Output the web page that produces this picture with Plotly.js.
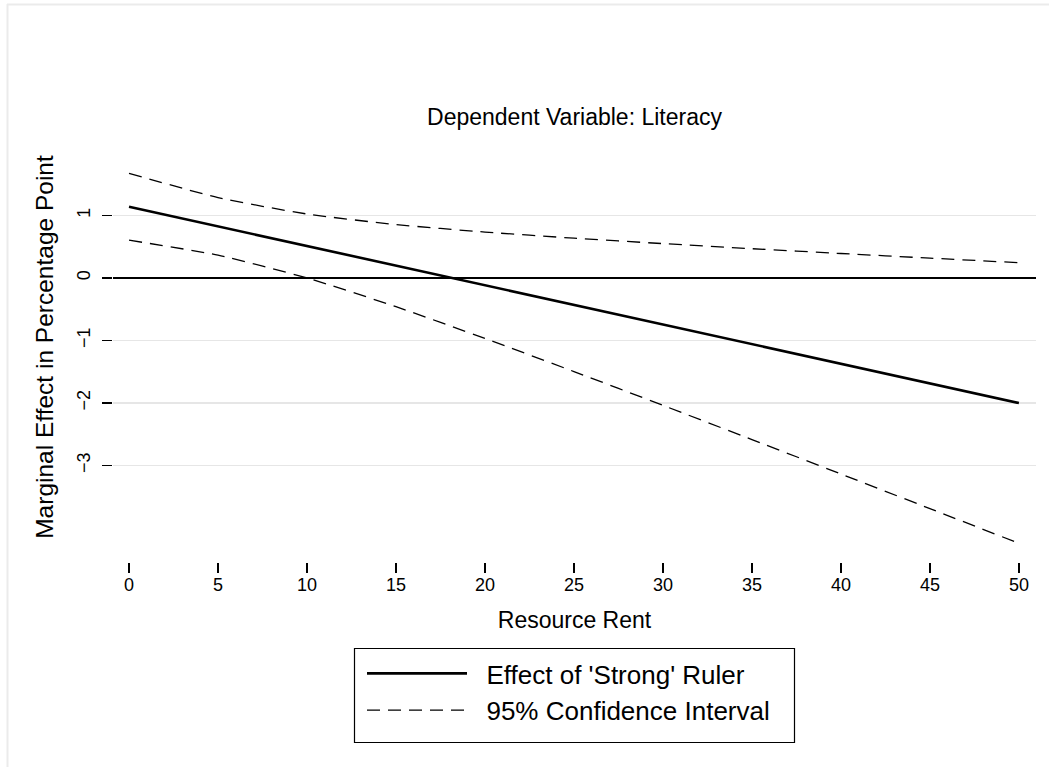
<!DOCTYPE html>
<html>
<head>
<meta charset="utf-8">
<script src="https://cdn.plot.ly/plotly-3.0.1.min.js"></script>
<style>
html,body{margin:0;padding:0;background:#fff;}
#chart{width:1049px;height:767px;}
</style>
</head>
<body>
<div id="chart"></div>
<script>
// Resource rent values (x)
const resourceRent = [0, 5, 10, 15, 20, 25, 30, 35, 40, 45, 50];
// Marginal effect of 'Strong' ruler
const effect = [1.14, 0.826, 0.512, 0.198, -0.116, -0.43, -0.744, -1.058, -1.372, -1.686, -2.0];
// 95% confidence interval bounds
const ciUpper = [1.675, 1.287, 1.024, 0.855, 0.735, 0.637, 0.550, 0.469, 0.392, 0.318, 0.245];
const ciLower = [0.605, 0.365, 0.000, -0.459, -0.967, -1.497, -2.038, -2.585, -3.136, -3.690, -4.245];
const xTicks = [0, 5, 10, 15, 20, 25, 30, 35, 40, 45, 50];
const yTicks = [-3, -2, -1, 0, 1];

const FONT = '"Liberation Sans", Arial, Helvetica, sans-serif';
const NB = '\u00a0\u00a0';

const traces = [
  {
    x: resourceRent, y: effect, type: 'scatter', mode: 'lines',
    name: NB + "Effect of 'Strong' Ruler",
    line: {color: '#000', width: 2.6},
    hoverinfo: 'skip'
  },
  {
    x: resourceRent, y: ciUpper, type: 'scatter', mode: 'lines',
    name: NB + '95% Confidence Interval', legendgroup: 'ci',
    line: {color: '#000', width: 1.3, dash: '13px,8px', shape: 'spline', smoothing: 0.6},
    hoverinfo: 'skip'
  },
  {
    x: resourceRent, y: ciLower, type: 'scatter', mode: 'lines',
    name: NB + '95% Confidence Interval', legendgroup: 'ci', showlegend: false,
    line: {color: '#000', width: 1.3, dash: '13px,8px', shape: 'spline', smoothing: 0.6},
    hoverinfo: 'skip'
  }
];

const L = 113, R = 13, T = 132, B = 205;
const W = 1049, H = 767;
const pw = W - L - R, ph = H - T - B;
const px2x = p => (p - L) / pw;
const py2y = p => (H - B - p) / ph;

const layout = {
  width: W, height: H,
  margin: {l: L, r: R, t: T, b: B, pad: 0},
  paper_bgcolor: '#fff', plot_bgcolor: '#fff',
  font: {family: FONT, color: '#000', size: 18},
  title: {
    text: 'Dependent Variable: Literacy',
    font: {size: 23, family: FONT, color: '#000'},
    xref: 'paper', x: 0.5, xanchor: 'center',
    yref: 'container', y: 1 - 117 / H, yanchor: 'middle'
  },
  xaxis: {
    range: [-0.9, 50.96],
    tickvals: xTicks, ticktext: xTicks.map(String),
    ticks: 'outside', ticklen: 10, tickwidth: 1.2, tickcolor: '#000',
    ticklabelstandoff: -4,
    showgrid: false, zeroline: false, showline: false,
    tickfont: {size: 18, family: FONT},
    title: {text: 'Resource Rent', font: {size: 23, family: FONT}, standoff: 18},
    automargin: false, fixedrange: true
  },
  yaxis: {
    range: [(278 - 562) / 62.5, (278 - T) / 62.5],
    tickvals: yTicks, ticktext: yTicks.map(v => v < 0 ? '\u2212' + Math.abs(v) : String(v)),
    tickangle: -90,
    ticks: 'outside', ticklen: 10, tickwidth: 1.2, tickcolor: '#000',
    ticklabelstandoff: 5,
    showgrid: true, gridcolor: '#e6e6e6', gridwidth: 1.5,
    zeroline: true, zerolinecolor: '#000', zerolinewidth: 2,
    showline: false,
    tickfont: {size: 18, family: FONT},
    title: {text: 'Marginal Effect in Percentage Point', font: {size: 24.5, family: FONT}, standoff: 13},
    automargin: false, fixedrange: true
  },
  showlegend: true,
  legend: {
    x: px2x(362), y: py2y(692), xanchor: 'left', yanchor: 'middle',
    orientation: 'v',
    bgcolor: 'rgba(0,0,0,0)', borderwidth: 0,
    font: {size: 26, family: FONT, color: '#000'},
    itemwidth: 100,
    tracegroupgap: 0
  },
  shapes: [
    {type: 'rect', xref: 'paper', yref: 'paper', x0: px2x(354.5), x1: px2x(794.5), y0: py2y(648.5), y1: py2y(742.5),
     line: {color: '#000', width: 1.2}, fillcolor: 'rgba(0,0,0,0)', layer: 'below'},
    {type: 'line', xref: 'paper', yref: 'paper', x0: px2x(7), x1: px2x(1049), y0: py2y(4.5), y1: py2y(4.5),
     line: {color: '#ebebeb', width: 2}},
    {type: 'line', xref: 'paper', yref: 'paper', x0: px2x(7.5), x1: px2x(7.5), y0: py2y(4), y1: py2y(767),
     line: {color: '#ebebeb', width: 2}}
  ]
};

Plotly.newPlot('chart', traces, layout, {displayModeBar: false, staticPlot: true});
</script>
</body>
</html>
